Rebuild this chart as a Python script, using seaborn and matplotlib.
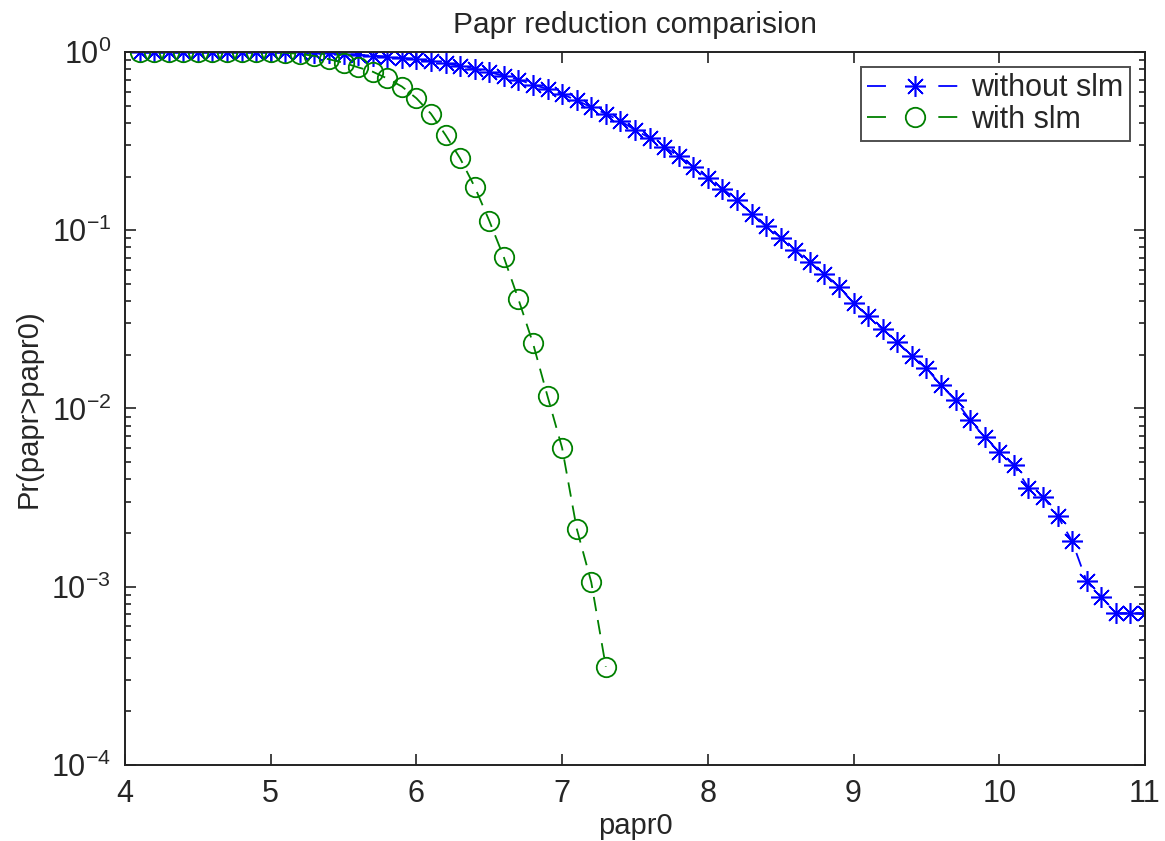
import numpy as np
import pandas as pd
import matplotlib
matplotlib.use('Agg')
import matplotlib.pyplot as plt
import seaborn as sns
from matplotlib.ticker import LogLocator, FixedLocator

# 数据
papr0_without = [4.1, 4.2, 4.3, 4.4, 4.5, 4.6, 4.7, 4.8, 4.9, 5.0,
                 5.1, 5.2, 5.3, 5.4, 5.5, 5.6, 5.7, 5.8, 5.9, 6.0,
                 6.1, 6.2, 6.3, 6.4, 6.5, 6.6, 6.7, 6.8, 6.9, 7.0,
                 7.1, 7.2, 7.3, 7.4, 7.5, 7.6, 7.7, 7.8, 7.9, 8.0,
                 8.1, 8.2, 8.3, 8.4, 8.5, 8.6, 8.7, 8.8, 8.9, 9.0,
                 9.1, 9.2, 9.3, 9.4, 9.5, 9.6, 9.7, 9.8, 9.9, 10.0,
                 10.1, 10.2, 10.3, 10.4, 10.5, 10.6, 10.7, 10.8, 10.9, 11.0]
pr_without = [1.0, 1.0, 1.0, 1.0, 1.0, 1.0, 1.0, 1.0, 1.0, 1.0,
              0.998, 0.995, 0.99, 0.985, 0.975, 0.965, 0.955, 0.94, 0.925, 0.91,
              0.89, 0.865, 0.835, 0.805, 0.77, 0.735, 0.70, 0.655, 0.62, 0.58,
              0.535, 0.49, 0.45, 0.41, 0.365, 0.33, 0.294, 0.26, 0.227, 0.197,
              0.171, 0.148, 0.124, 0.105, 0.091, 0.077, 0.066, 0.057, 0.048, 0.039,
              0.033, 0.0278, 0.0236, 0.0196, 0.0168, 0.0135, 0.0111, 0.0086, 0.0069, 0.0057,
              0.0048, 0.0036, 0.0032, 0.0025, 0.0018, 0.00107, 0.00088, 0.00071, 0.00071, 0.00071]

papr0_with = [4.1, 4.2, 4.3, 4.4, 4.5, 4.6, 4.7, 4.8, 4.9, 5.0,
              5.1, 5.2, 5.3, 5.4, 5.5, 5.6, 5.7, 5.8, 5.9, 6.0,
              6.1, 6.2, 6.3, 6.4, 6.5, 6.6, 6.7, 6.8, 6.9, 7.0,
              7.1, 7.2, 7.3]
pr_with = [1.0, 1.0, 1.0, 1.0, 1.0, 1.0, 1.0, 1.0, 1.0, 1.0,
           0.99, 0.975, 0.95, 0.91, 0.87, 0.82, 0.775, 0.71, 0.64, 0.55,
           0.45, 0.342, 0.253, 0.175, 0.113, 0.0705, 0.041, 0.0232, 0.0117, 0.006,
           0.00212, 0.00106, 0.000355]

x_ticks = [4, 5, 6, 7, 8, 9, 10, 11]
y_ticks = [1e-4, 1e-3, 1e-2, 1e-1, 1e0]
y_tick_labels = [r'$\mathregular{10^{-4}}$', r'$\mathregular{10^{-3}}$', r'$\mathregular{10^{-2}}$',
                 r'$\mathregular{10^{-1}}$', r'$\mathregular{10^{0}}$']

df_without = pd.DataFrame({'papr0': papr0_without, 'pr': pr_without})
df_with = pd.DataFrame({'papr0': papr0_with, 'pr': pr_with})

sns.set_style('ticks')
plt.rcParams['font.family'] = ['Liberation Sans', 'DejaVu Sans']
plt.rcParams['mathtext.fontset'] = 'custom'
plt.rcParams['mathtext.rm'] = 'Liberation Sans'

fig = plt.figure(figsize=(11.65, 8.41), dpi=100)
ax = fig.add_axes([0.1073, 0.0904, 0.8755, 0.8478])

# MATLAB 风格的星号（8 条臂）
asterisk = (8, 2, 0)

sns.lineplot(data=df_without, x='papr0', y='pr', ax=ax, color='#0000ff',
             linewidth=1.3, marker=asterisk, markersize=15,
             markeredgewidth=1.15, markeredgecolor='#0000ff',
             label='without slm')
sns.lineplot(data=df_with, x='papr0', y='pr', ax=ax, color='#008000',
             linewidth=1.3, marker='o', markersize=14,
             markerfacecolor='none', markeredgecolor='#008000',
             markeredgewidth=1.3, label='with slm')
for ln in ax.get_lines():
    ln.set_linestyle((0, (8, 5)))

ax.set_yscale('log')
ax.set_xlim(4, 11)
ax.set_ylim(1e-4, 1)
ax.xaxis.set_major_locator(FixedLocator(x_ticks))
ax.yaxis.set_major_locator(FixedLocator(y_ticks))
ax.yaxis.set_minor_locator(LogLocator(base=10, subs=np.arange(2, 10)))
ax.set_yticklabels(y_tick_labels)
ax.set_xticklabels([str(t) for t in x_ticks])

for lab in ax.get_xticklabels() + ax.get_yticklabels():
    lab.set_fontsize(22)

ax.tick_params(which='both', direction='in', top=True, right=True, width=1.2,
               color='#222222')
ax.tick_params(which='major', length=8, pad=10)
ax.tick_params(which='minor', length=4)
for sp in ax.spines.values():
    sp.set_linewidth(1.4)
    sp.set_color('#222222')
    sp.set_visible(True)

ax.set_title('Papr reduction comparision', fontsize=21.5, pad=14)
ax.set_xlabel('papr0', fontsize=21, labelpad=2)
ax.set_ylabel('Pr(papr>papr0)', fontsize=21, labelpad=6)

leg = ax.legend(loc='upper right', fontsize=22, frameon=True, fancybox=False,
                edgecolor='#222222', handlelength=3.1, borderpad=0.2,
                labelspacing=0.05, handletextpad=0.3, borderaxespad=0.5)
leg.get_frame().set_linewidth(1.4)
# 图例中的线段：短划 - 标记 - 短划
for hl in leg.get_lines():
    hl.set_linestyle((0, (10.5, 29)))

fig.savefig('out.png', dpi=100)
